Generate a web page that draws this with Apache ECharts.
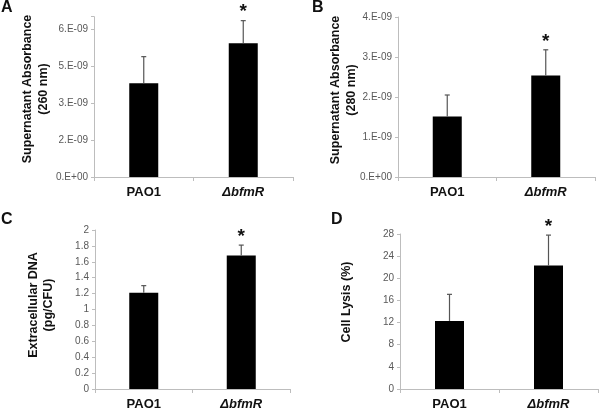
<!DOCTYPE html>
<html>
<head>
<meta charset="utf-8">
<title>bfmR panels</title>
<script src="https://cdn.jsdelivr.net/npm/echarts@6.0.0/dist/echarts.min.js"></script>
<style>
  html, body { margin: 0; padding: 0; background: #fff; }
  #main { width: 600px; height: 411px; }
</style>
</head>
<body>
<div id="main"></div>
<script>
// ---------- data ----------
const categories = ['PAO1', 'ΔbfmR'];
const significance = ['', '*'];

// A: supernatant absorbance 260 nm
const abs260 = [3.80e-9, 5.42e-9];
const abs260Err = [1.08e-9, 0.92e-9];
const ticksA = ['0.E+00', '2.E-09', '3.E-09', '5.E-09', '6.E-09'];

// B: supernatant absorbance 280 nm
const abs280 = [1.51e-9, 2.54e-9];
const abs280Err = [0.54e-9, 0.64e-9];
const ticksB = ['0.E+00', '1.E-09', '2.E-09', '3.E-09', '4.E-09'];

// C: extracellular DNA (pg/CFU)
const exDNA = [1.21, 1.68];
const exDNAErr = [0.09, 0.13];
const ticksC = ['0', '0.2', '0.4', '0.6', '0.8', '1', '1.2', '1.4', '1.6', '1.8', '2'];

// D: cell lysis (%)
const lysis = [12.3, 22.3];
const lysisErr = [4.8, 5.5];
const ticksD = ['0', '4', '8', '12', '16', '20', '24', '28'];

const chart = echarts.init(document.getElementById('main'));
const FONT = 'Liberation Sans, Arial, sans-serif';

// panel layout (px)
const grids = [
  { left: 94, top: 16.7, width: 199, height: 160.3 },
  { left: 398, top: 17, width: 197, height: 160 },
  { left: 95, top: 230, width: 195, height: 162 },
  { left: 400, top: 234, width: 198, height: 156 }
];
const scales = [
  { max: 6.5e-9, interval: 1.5e-9, ticks: ticksA },
  { max: 4e-9, interval: 1e-9, ticks: ticksB },
  { max: 2, interval: 0.2, ticks: ticksC },
  { max: 28, interval: 4, ticks: ticksD }
];
const values = [abs260, abs280, exDNA, lysis];
const errors = [abs260Err, abs280Err, exDNAErr, lysisErr];

function xAxisFor(i) {
  return {
    type: 'category', gridIndex: i, data: categories,
    axisLine: { lineStyle: { color: '#bdbdbd', width: 1 } },
    axisTick: { show: true, length: 4, lineStyle: { color: '#bdbdbd' } },
    axisLabel: {
      margin: 9, fontFamily: FONT, fontSize: 13, fontWeight: 'bold', color: '#111',
      formatter: (v, k) => k === 1 ? '{it|' + v + '}' : v,
      rich: { it: { fontFamily: FONT, fontSize: 13, fontWeight: 'bold', fontStyle: 'italic', color: '#111' } }
    }
  };
}
function yAxisFor(i) {
  const s = scales[i];
  return {
    type: 'value', gridIndex: i, min: 0, max: s.max, interval: s.interval,
    splitLine: { show: false },
    axisLine: { show: true, lineStyle: { color: '#bdbdbd', width: 1 } },
    axisTick: { show: true, length: 3, lineStyle: { color: '#bdbdbd' } },
    axisLabel: {
      margin: 6, fontFamily: FONT, fontSize: 10, color: '#595959',
      formatter: (v, k) => s.ticks[k] !== undefined ? s.ticks[k] : ''
    }
  };
}

function errorSeries(i) {
  return {
    type: 'custom', xAxisIndex: i, yAxisIndex: i, z: 5,
    data: values[i].map((v, k) => [k, v, errors[i][k], significance[k]]),
    renderItem: function (params, api) {
      const k = api.value(0), v = api.value(1), e = api.value(2);
      const p0 = api.coord([k, v]);
      const p1 = api.coord([k, v + e]);
      const star = significance[k];
      const children = [
        { type: 'line', shape: { x1: p0[0], y1: p0[1], x2: p1[0], y2: p1[1] },
          style: { stroke: '#555', lineWidth: 1.2 } },
        { type: 'line', shape: { x1: p1[0] - 2.5, y1: p1[1], x2: p1[0] + 2.5, y2: p1[1] },
          style: { stroke: '#555', lineWidth: 1.2 } }
      ];
      if (star) {
        children.push({ type: 'text', x: p1[0], y: p1[1] + 1,
          style: { text: star, fontFamily: FONT, fontSize: 19, fontWeight: 'bold',
            fill: '#111', align: 'center', verticalAlign: 'bottom' } });
      }
      return { type: 'group', children: children };
    }
  };
}

const series = [];
for (let i = 0; i < 4; i++) {
  series.push({
    type: 'bar', xAxisIndex: i, yAxisIndex: i, data: values[i],
    barWidth: 29, itemStyle: { color: '#000' }, silent: true
  });
  series.push(errorSeries(i));
}

// panel letters and axis titles
function title(text, x, y, size, rot) {
  return { type: 'text', x: x, y: y, rotation: rot ? Math.PI / 2 : 0,
    style: { text: text, fontFamily: FONT, fontSize: size, fontWeight: 'bold', fill: '#111',
      align: rot ? 'center' : 'left', verticalAlign: rot ? 'middle' : 'top', lineHeight: 15.5 } };
}

chart.setOption({
  animation: false,
  grid: grids,
  xAxis: [0, 1, 2, 3].map(xAxisFor),
  yAxis: [0, 1, 2, 3].map(yAxisFor),
  series: series,
  graphic: [
    title('A', 1, 0, 16, false),
    title('B', 312, 0, 16, false),
    title('C', 1, 212, 16, false),
    title('D', 331, 212, 16, false),
    title('Supernatant Absorbance\n(260 nm)', 35.5, 89, 12.5, true),
    title('Supernatant Absorbance\n(280 nm)', 343.5, 90, 12.5, true),
    title('Extracellular DNA\n(pg/CFU)', 41, 305, 12.5, true),
    title('Cell Lysis (%)', 347, 302, 12.5, true)
  ]
});
</script>
</body>
</html>
